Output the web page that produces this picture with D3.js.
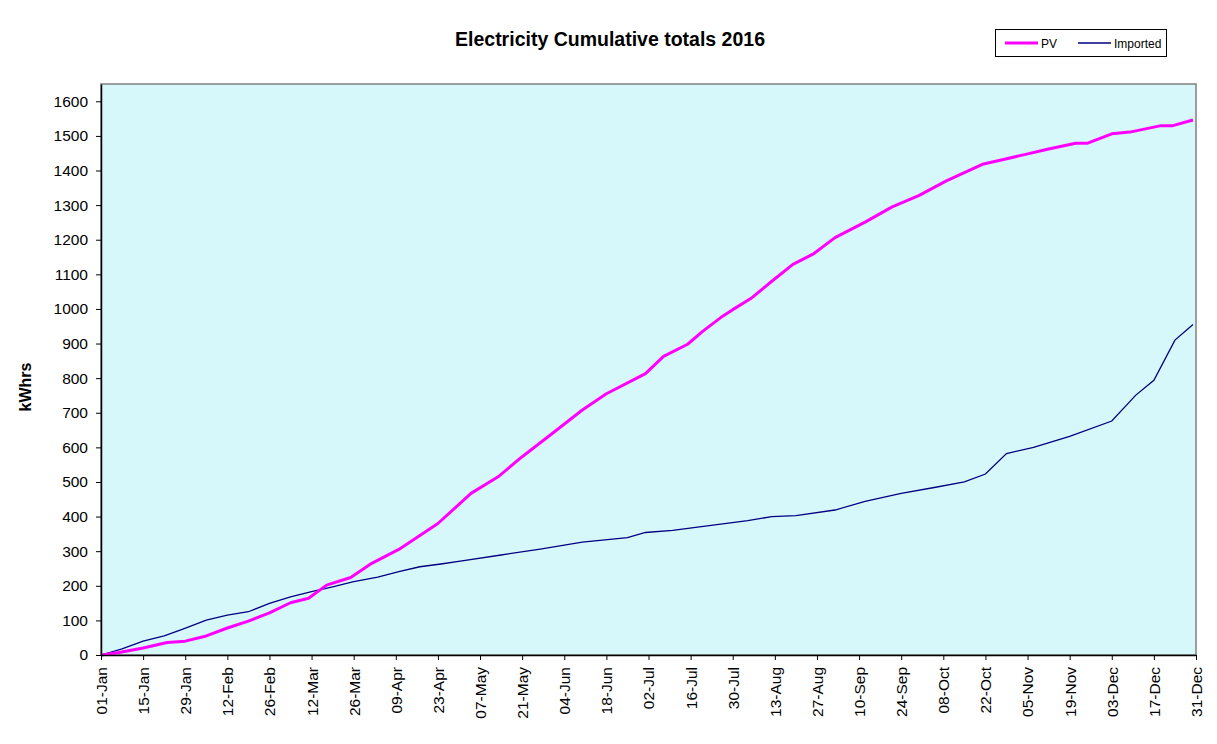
<!DOCTYPE html>
<html>
<head>
<meta charset="utf-8">
<script src="https://cdn.jsdelivr.net/npm/d3@7"></script>
<style>
  html, body { margin: 0; padding: 0; background: #ffffff; }
  svg { display: block; font-family: Arial, "Liberation Sans", sans-serif; }
</style>
</head>
<body>
<svg id="chart" width="1217" height="744"></svg>
<script>
// ---- Data (day offset from 01-Jan, cumulative kWh) ----
const pvDays   = [0, 6, 14, 22, 28, 35, 42, 49, 56, 63, 69, 75, 83, 90, 99, 104, 112, 123, 132, 140, 150, 160, 168, 181, 187, 195, 200, 206, 210, 216, 223, 230, 237, 244, 254, 263, 272, 281, 293, 300, 307, 315, 324, 328, 336, 342, 352, 356, 363];
const pvValues = [0, 7, 20, 36, 40, 55, 78, 98, 122, 151, 164, 202, 224, 265, 305, 334, 380, 467, 515, 573, 640, 708, 755, 813, 863, 898, 935, 975, 998, 1030, 1080, 1129, 1160, 1206, 1251, 1295, 1328, 1370, 1418, 1432, 1446, 1462, 1479, 1479, 1506, 1511, 1529, 1529, 1546];

const importedDays   = [0, 7, 14, 21, 27, 35, 42, 49, 56, 63, 70, 77, 84, 92, 99, 106, 113, 120, 133, 146, 160, 175, 181, 190, 206, 215, 223, 231, 244, 254, 266, 277, 287, 294, 301, 310, 322, 336, 344, 350, 357, 363];
const importedValues = [0, 18, 40, 55, 74, 101, 115, 125, 149, 168, 183, 197, 212, 225, 241, 255, 263, 272, 289, 306, 326, 339, 354, 360, 378, 388, 400, 403, 419, 444, 467, 484, 500, 523, 582, 600, 632, 676, 751, 794, 910, 955];

const xTickLabels = ["01-Jan","15-Jan","29-Jan","12-Feb","26-Feb","12-Mar","26-Mar","09-Apr","23-Apr","07-May","21-May","04-Jun","18-Jun","02-Jul","16-Jul","30-Jul","13-Aug","27-Aug","10-Sep","24-Sep","08-Oct","22-Oct","05-Nov","19-Nov","03-Dec","17-Dec","31-Dec"];
const yTickValues = [0,100,200,300,400,500,600,700,800,900,1000,1100,1200,1300,1400,1500,1600];
const seriesNames = ["PV", "Imported"];

// ---- Layout ----
const svg = d3.select("#chart");
const L = 101, R = 1196, T = 84, B = 655;
const FONT = "Arial, 'Liberation Sans', sans-serif";

const x = d3.scaleLinear().domain([0, 364]).range([L, R]);
const y = d3.scaleLinear().domain([0, 1650]).range([B, T]);

// plot background + grey frame
svg.append("rect").attr("x", L).attr("y", T).attr("width", R - L).attr("height", B - T)
  .attr("fill", "#d7f8fa").attr("stroke", "#808080").attr("stroke-width", 1.5);

// lines
const pvData = pvDays.map((d, i) => [d, pvValues[i]]);
const impData = importedDays.map((d, i) => [d, importedValues[i]]);
const line = d3.line().x(d => x(d[0])).y(d => y(d[1]));

svg.append("path").datum(impData).attr("d", line)
  .attr("fill", "none").attr("stroke", "#000080").attr("stroke-width", 1.3);
svg.append("path").datum(pvData).attr("d", line)
  .attr("fill", "none").attr("stroke", "#ff00ff").attr("stroke-width", 3).attr("stroke-linejoin", "round");

// y axis
const yAxis = d3.axisLeft(y).tickValues(yTickValues).tickFormat(d3.format("d"))
  .tickSize(5).tickPadding(8).tickSizeOuter(0);
const gy = svg.append("g").attr("transform", `translate(${L},0)`).call(yAxis);
gy.select(".domain").attr("stroke", "#000").attr("stroke-width", 1.5);
gy.selectAll(".tick line").attr("stroke", "#000");
gy.selectAll("text").attr("font-size", 15.5).attr("fill", "#000").attr("font-family", FONT);

// x axis
const xTicks = xTickLabels.map((_, i) => i * 14);
const xAxis = d3.axisBottom(x).tickValues(xTicks).tickFormat((d, i) => xTickLabels[i]).tickSize(5).tickSizeOuter(0);
const gx = svg.append("g").attr("transform", `translate(0,${B})`).call(xAxis);
gx.select(".domain").attr("stroke", "#000").attr("stroke-width", 1.5);
gx.selectAll(".tick line").attr("stroke", "#000");
gx.selectAll("text")
  .attr("font-size", 15.5).attr("fill", "#000").attr("font-family", FONT)
  .attr("transform", "rotate(-90)")
  .attr("x", -12).attr("y", 0).attr("dy", "0.35em")
  .style("text-anchor", "end");

// title
svg.append("text").attr("x", 610).attr("y", 46).attr("text-anchor", "middle")
  .attr("font-size", 19.5).attr("font-weight", "bold").attr("font-family", FONT)
  .text("Electricity Cumulative totals 2016");

// y label
svg.append("text").attr("transform", "translate(31,387) rotate(-90)").attr("text-anchor", "middle")
  .attr("font-size", 16).attr("font-weight", "bold").attr("font-family", FONT).text("kWhrs");

// legend
const lg = svg.append("g");
lg.append("rect").attr("x", 995.5).attr("y", 29.5).attr("width", 171).attr("height", 27)
  .attr("fill", "#fff").attr("stroke", "#000").attr("stroke-width", 1);
const legendItems = [
  { name: seriesNames[0], color: "#ff00ff", w: 3, x0: 1005 },
  { name: seriesNames[1], color: "#000080", w: 1.3, x0: 1078 }
];
legendItems.forEach(it => {
  lg.append("line").attr("x1", it.x0).attr("x2", it.x0 + 33).attr("y1", 43).attr("y2", 43)
    .attr("stroke", it.color).attr("stroke-width", it.w);
  lg.append("text").attr("x", it.x0 + 36).attr("y", 47.5).attr("font-size", 12)
    .attr("font-family", FONT).text(it.name);
});
</script>
</body>
</html>
